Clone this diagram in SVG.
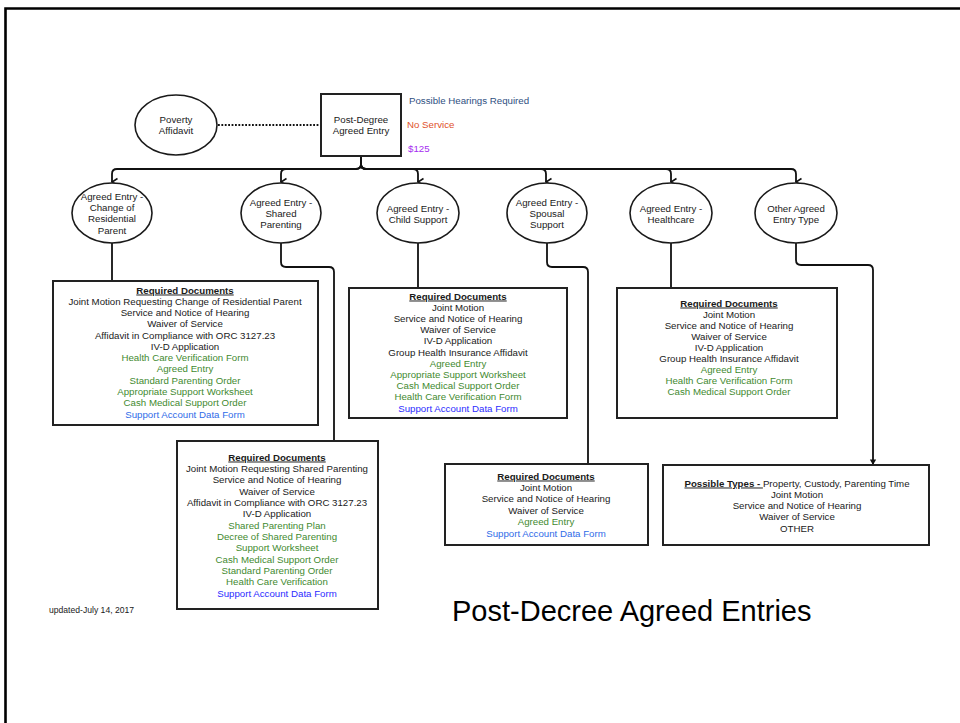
<svg xmlns="http://www.w3.org/2000/svg" width="960" height="723" viewBox="0 0 960 723">
  <style>
    text { font-family: "Liberation Sans", Arial, sans-serif; font-size: 9.7px; fill: #1a1a1a; text-anchor: middle; }
    .hd { font-weight: bold; text-decoration: underline; }
    .g { fill: #3f8a2f; }
    .b1 { fill: #2f6be8; }
    .b2 { fill: #2b2bff; }
    .node { fill: #fff; stroke: #1a1a1a; stroke-width: 1.6; }
    .box { fill: #fff; stroke: #222; stroke-width: 2; }
    .wire { fill: none; stroke: #111; stroke-width: 1.8; }
    .left { text-anchor: start; }
  </style>
  <defs>
    <marker id="arrow" viewBox="0 0 10 10" refX="5" refY="9" markerWidth="10" markerHeight="10" markerUnits="userSpaceOnUse" orient="auto-start-reverse">
      <path d="M1.5 3.5 L5 9 L8.5 3.5" fill="none" stroke="#111" stroke-width="1.6"/>
    </marker>
    <marker id="tri" viewBox="0 0 10 10" refX="5" refY="9" markerWidth="9" markerHeight="9" markerUnits="userSpaceOnUse">
      <path d="M1.5 3 L5 9 L8.5 3 Z" fill="#111"/>
    </marker>
  </defs>

  <rect width="960" height="723" fill="#fff"/>
  <!-- page frame -->
  <path d="M5.5 723 V8.5 H960" fill="none" stroke="#000" stroke-width="2.6"/>

  <!-- connectors -->
  <g id="connectors">
    <line class="wire" x1="218" y1="125" x2="321" y2="125" stroke-dasharray="1.8 1.6"/>
    <path class="wire" d="M361 156 V164 Q361 169 356 169 H117 Q112 169 112 174 V182" marker-end="url(#arrow)"/>
    <path class="wire" d="M361 156 V164 Q361 169 356 169 H286 Q281 169 281 174 V182" marker-end="url(#arrow)"/>
    <path class="wire" d="M361 156 V164 Q361 169 366 169 H413 Q418 169 418 174 V182" marker-end="url(#arrow)"/>
    <path class="wire" d="M361 156 V164 Q361 169 366 169 H541 Q546 169 546 174 V182" marker-end="url(#arrow)"/>
    <path class="wire" d="M361 156 V164 Q361 169 366 169 H666 Q671 169 671 174 V182" marker-end="url(#arrow)"/>
    <path class="wire" d="M361 156 V164 Q361 169 366 169 H791 Q796 169 796 174 V182" marker-end="url(#arrow)"/>
    <line class="wire" x1="112" y1="243" x2="112" y2="281"/>
    <path class="wire" d="M281 243 V262 Q281 267 286 267 H329 Q334 267 334 272 V441"/>
    <line class="wire" x1="418" y1="243" x2="418" y2="288"/>
    <path class="wire" d="M547 243 V262 Q547 267 552 267 H583 Q588 267 588 272 V464"/>
    <line class="wire" x1="671" y1="243" x2="671" y2="288"/>
    <path class="wire" d="M796 243 V260 Q796 265 801 265 H868 Q873 265 873 270 V465" marker-end="url(#tri)"/>
  </g>

  <!-- top row -->
  <g id="poverty-affidavit">
    <ellipse class="node" cx="176" cy="125" rx="41" ry="30"/>
    <text x="176" y="122.5">Poverty</text>
    <text x="176" y="133.5">Affidavit</text>
  </g>
  <g id="post-degree">
    <rect class="box" x="321" y="94" width="80" height="62"/>
    <text x="361" y="122.5">Post-Degree</text>
    <text x="361" y="133.5">Agreed Entry</text>
  </g>
  <g id="notes">
    <text class="left" x="409" y="103.5" style="fill:#2f4f7f">Possible Hearings Required</text>
    <text class="left" x="407" y="128" style="fill:#e0502a">No Service</text>
    <text class="left" x="408" y="152" style="fill:#a52cf0">$125</text>
  </g>

  <!-- entry types -->
  <g id="e-residential">
    <ellipse class="node" cx="112" cy="213" rx="40" ry="30"/>
    <text x="112" y="200.2">Agreed Entry -</text>
    <text x="112" y="211.3">Change of</text>
    <text x="112" y="222.4">Residential</text>
    <text x="112" y="233.5">Parent</text>
  </g>
  <g id="e-shared">
    <ellipse class="node" cx="281" cy="213" rx="40" ry="30"/>
    <text x="281" y="205.8">Agreed Entry -</text>
    <text x="281" y="216.9">Shared</text>
    <text x="281" y="228">Parenting</text>
  </g>
  <g id="e-child">
    <ellipse class="node" cx="418" cy="213" rx="41" ry="30"/>
    <text x="418" y="211.6">Agreed Entry -</text>
    <text x="418" y="222.7">Child Support</text>
  </g>
  <g id="e-spousal">
    <ellipse class="node" cx="547" cy="213" rx="40" ry="30"/>
    <text x="547" y="205.8">Agreed Entry -</text>
    <text x="547" y="216.9">Spousal</text>
    <text x="547" y="228">Support</text>
  </g>
  <g id="e-healthcare">
    <ellipse class="node" cx="671" cy="213" rx="41" ry="30"/>
    <text x="671" y="211.6">Agreed Entry -</text>
    <text x="671" y="222.7">Healthcare</text>
  </g>
  <g id="e-other">
    <ellipse class="node" cx="796" cy="213" rx="41" ry="30"/>
    <text x="796" y="211.6">Other Agreed</text>
    <text x="796" y="222.7">Entry Type</text>
  </g>

  <!-- document lists -->
  <g id="docs-residential">
    <rect class="box" x="53" y="281" width="265" height="144"/>
    <text class="hd" x="185" y="293.5">Required Documents</text>
    <text x="185" y="304.8">Joint Motion Requesting Change of Residential Parent</text>
    <text x="185" y="316">Service and Notice of Hearing</text>
    <text x="185" y="327.3">Waiver of Service</text>
    <text x="185" y="338.6">Affidavit in Compliance with ORC 3127.23</text>
    <text x="185" y="349.9">IV-D Application</text>
    <text class="g" x="185" y="361.1">Health Care Verification Form</text>
    <text class="g" x="185" y="372.4">Agreed Entry</text>
    <text class="g" x="185" y="383.7">Standard Parenting Order</text>
    <text class="g" x="185" y="395">Appropriate Support Worksheet</text>
    <text class="g" x="185" y="406.2">Cash Medical Support Order</text>
    <text class="b1" x="185" y="417.5">Support Account Data Form</text>
  </g>
  <g id="docs-shared">
    <rect class="box" x="177" y="441" width="201" height="168"/>
    <text class="hd" x="277" y="460.5">Required Documents</text>
    <text x="277" y="471.8">Joint Motion Requesting Shared Parenting</text>
    <text x="277" y="483.2">Service and Notice of Hearing</text>
    <text x="277" y="494.5">Waiver of Service</text>
    <text x="277" y="505.8">Affidavit in Compliance with ORC 3127.23</text>
    <text x="277" y="517.2">IV-D Application</text>
    <text class="g" x="277" y="528.5">Shared Parenting Plan</text>
    <text class="g" x="277" y="539.8">Decree of Shared Parenting</text>
    <text class="g" x="277" y="551.1">Support Worksheet</text>
    <text class="g" x="277" y="562.5">Cash Medical Support Order</text>
    <text class="g" x="277" y="573.8">Standard Parenting Order</text>
    <text class="g" x="277" y="585.1">Health Care Verification</text>
    <text class="b2" x="277" y="596.5">Support Account Data Form</text>
  </g>
  <g id="docs-child">
    <rect class="box" x="349" y="288" width="218" height="130"/>
    <text class="hd" x="458" y="299.5">Required Documents</text>
    <text x="458" y="310.7">Joint Motion</text>
    <text x="458" y="321.9">Service and Notice of Hearing</text>
    <text x="458" y="333.1">Waiver of Service</text>
    <text x="458" y="344.3">IV-D Application</text>
    <text x="458" y="355.5">Group Health Insurance Affidavit</text>
    <text class="g" x="458" y="366.7">Agreed Entry</text>
    <text class="g" x="458" y="377.9">Appropriate Support Worksheet</text>
    <text class="g" x="458" y="389.1">Cash Medical Support Order</text>
    <text class="g" x="458" y="400.3">Health Care Verification Form</text>
    <text class="b2" x="458" y="411.5">Support Account Data Form</text>
  </g>
  <g id="docs-healthcare">
    <rect class="box" x="617" y="288" width="220" height="130"/>
    <text class="hd" x="729" y="306.5">Required Documents</text>
    <text x="729" y="317.6">Joint Motion</text>
    <text x="729" y="328.7">Service and Notice of Hearing</text>
    <text x="729" y="339.8">Waiver of Service</text>
    <text x="729" y="350.9">IV-D Application</text>
    <text x="729" y="362">Group Health Insurance Affidavit</text>
    <text class="g" x="729" y="373.1">Agreed Entry</text>
    <text class="g" x="729" y="384.2">Health Care Verification Form</text>
    <text class="g" x="729" y="395.3">Cash Medical Support Order</text>
  </g>
  <g id="docs-spousal">
    <rect class="box" x="445" y="464" width="203" height="81"/>
    <text class="hd" x="546" y="479.5">Required Documents</text>
    <text x="546" y="490.9">Joint Motion</text>
    <text x="546" y="502.3">Service and Notice of Hearing</text>
    <text x="546" y="513.7">Waiver of Service</text>
    <text class="g" x="546" y="525.1">Agreed Entry</text>
    <text class="b1" x="546" y="536.5">Support Account Data Form</text>
  </g>
  <g id="docs-other">
    <rect class="box" x="663" y="465" width="266" height="80"/>
    <text x="797" y="486.5"><tspan class="hd">Possible Types - </tspan>Property, Custody, Parenting Time</text>
    <text x="797" y="497.8">Joint Motion</text>
    <text x="797" y="509">Service and Notice of Hearing</text>
    <text x="797" y="520.3">Waiver of Service</text>
    <text x="797" y="531.5">OTHER</text>
  </g>

  <!-- footer -->
  <text class="left" x="49" y="613" style="font-size:8.6px">updated-July 14, 2017</text>
  <text class="left" x="452" y="621" style="font-size:29px;fill:#000">Post-Decree Agreed Entries</text>
</svg>
